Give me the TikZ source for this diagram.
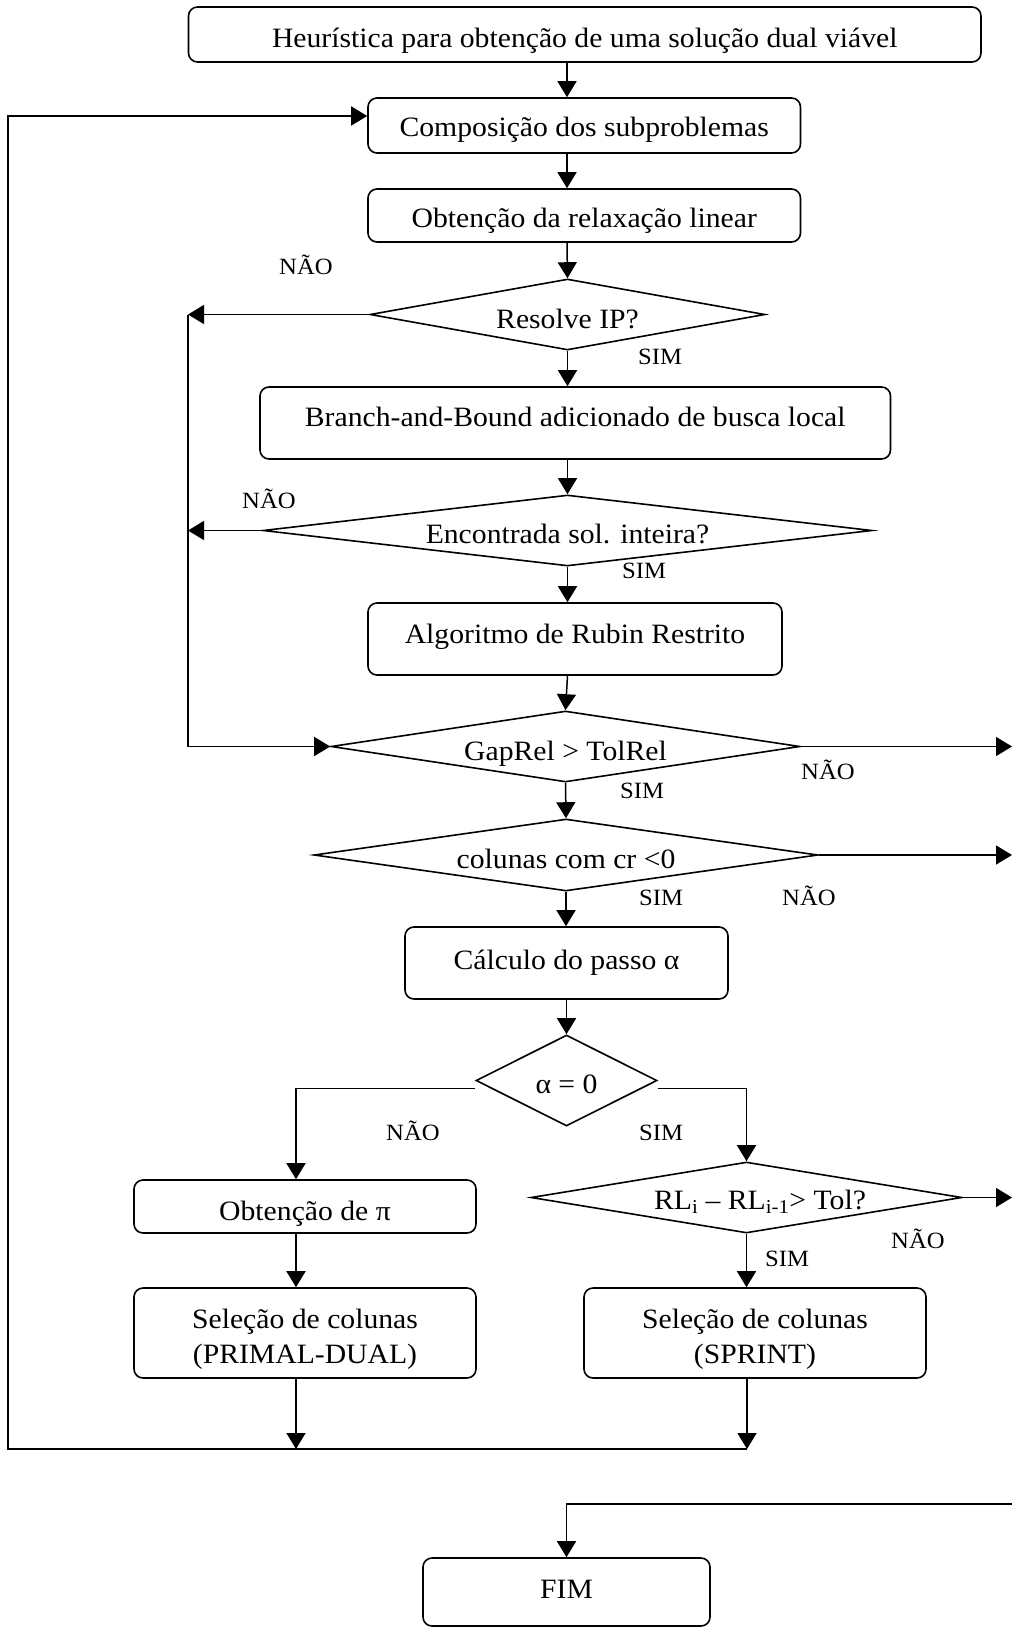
\documentclass[tikz,border=0pt]{standalone}
\usepackage{fontspec}
\setmainfont{Liberation Serif}[FakeStretch=1.06]
\usetikzlibrary{shapes.geometric,arrows.meta,calc}
\newcommand{\mainsize}{\fontsize{28}{35}\selectfont}
\newcommand{\labelsize}{\fontsize{23.3}{28}\selectfont}
% two centred lines, lowered a little inside their box
\newcommand{\twolines}[2]{\raisebox{-5.5pt}[\height][\depth]{\begin{tabular}{@{}c@{}}#1\\#2\end{tabular}}}
\begin{document}
\begin{tikzpicture}[x=1pt,y=-1pt,
  proc/.style={draw, rounded corners=9pt, line width=1.6pt, inner sep=0pt,
               align=center, font=\mainsize},
  dec/.style={draw, diamond, line width=1.6pt, inner sep=0pt, font=\mainsize},
  bl/.style={text height=#1, text depth=0pt},
  lbl/.style={font=\labelsize, inner sep=0pt, anchor=base west},
  arr/.style={line width=1.5pt, -{Triangle[length=16pt,width=19pt]}},
  ln/.style={line width=1.5pt}]
\useasboundingbox (0,0) rectangle (1012,1627);

% column positions of the connectors
\coordinate (cx) at (567,0);
\coordinate (lx) at (296,0);
\coordinate (rx) at (747,0);
\coordinate (lft) at (188,0);
\coordinate (rgt) at (1012,0);
\coordinate (loopC) at (8,1449);
\coordinate (joinL) at (296,1449);
\coordinate (joinR) at (747,1449);
\coordinate (fimin) at (1012,1504);

% process boxes
\node[proc, bl=27pt, minimum width=792.5pt, minimum height=55pt] (heur) at (584.75,34.5)
  {Heurística para obtenção de uma solução dual viável};
\node[proc, bl=23pt, minimum width=432.5pt, minimum height=55pt] (comp) at (584.25,125.5)
  {Composição dos subproblemas};
\node[proc, bl=23pt, minimum width=432.5pt, minimum height=53pt] (relax) at (584.25,215.5)
  {Obtenção da relaxação linear};
\node[proc, bl=6pt, minimum width=630.5pt, minimum height=72pt] (bb) at (575.25,423)
  {Branch-and-Bound adicionado de busca local};
\node[proc, bl=8pt, minimum width=414pt, minimum height=72pt] (rubin) at (575,639)
  {Algoritmo de Rubin Restrito};
\node[proc, bl=12pt, minimum width=323pt, minimum height=72pt] (passo) at (566.5,963)
  {Cálculo do passo α};
\node[proc, bl=27pt, minimum width=342pt, minimum height=53pt] (obt) at (305,1206.5)
  {Obtenção de π};
\node[proc, minimum width=342pt, minimum height=90pt] (sel1) at (305,1333)
  {\twolines{Seleção de colunas}{(PRIMAL-DUAL)}};
\node[proc, minimum width=342pt, minimum height=90pt] (sel2) at (755,1333)
  {\twolines{Seleção de colunas}{(SPRINT)}};
\node[proc, bl=12pt, minimum width=287pt, minimum height=68pt] (fim) at (566.5,1592)
  {FIM};

% decisions
\node[dec, bl=27pt, minimum width=395pt, minimum height=71pt, aspect=5.56] (d1) at (567.5,314.5)
  {Resolve IP?};
\node[dec, bl=25pt, minimum width=609pt, minimum height=71pt, aspect=8.58] (d2) at (567.5,530.5)
  {Encontrada sol. inteira?};
\node[dec, bl=27pt, minimum width=469pt, minimum height=71pt, aspect=6.61] (d3) at (565.5,746.5)
  {GapRel > TolRel};
\node[dec, bl=26pt, minimum width=504pt, minimum height=72pt, aspect=7.0] (d4) at (566,855)
  {colunas com cr <0};
\node[dec, bl=25pt, minimum width=181pt, minimum height=91pt, aspect=1.99] (d5) at (566.5,1080.5)
  {α = 0};
\node[dec, bl=23pt, minimum width=431pt, minimum height=71pt, aspect=6.07] (d6) at (746.5,1197.5)
  {\hspace*{27pt}RL\textsubscript{i} – RL\textsubscript{i-1}> Tol?};

% main column
\draw[arr] (cx |- heur.south) -- (cx |- comp.north);
\draw[arr] (cx |- comp.south) -- (cx |- relax.north);
\draw[arr] (cx |- relax.south) -- (d1.north);
\draw[arr] (d1.south) -- (d1.south |- bb.north);
\draw[arr] (d1.south |- bb.south) -- (d2.north);
\draw[arr] (d2.south) -- (d2.south |- rubin.north);
\draw[arr] (d2.south |- rubin.south) -- (d3.north);
\draw[arr] (d3.south) -- (d4.north);
\draw[arr] (d4.south) -- (d4.south |- passo.north);
\draw[arr] (passo.south) -- (d5.north);

% NAO branches back to the gap test
\draw[arr] (d1.west) -- (d1.west -| lft);
\draw[arr] (d2.west) -- (d2.west -| lft);
\draw[arr] (d1.west -| lft) |- (d3.west);

% exits to the right
\draw[arr] (d3.east) -- (d3.east -| rgt);
\draw[arr] (d4.east) -- (d4.east -| rgt);
\draw[arr] (d6.east) -- (d6.east -| rgt);
\draw[arr] (fimin) -| (fim.north);

% alpha = 0 split
\draw[arr] ([yshift=-8pt]d5.west) -| (lx |- obt.north);
\draw[arr] ([yshift=-8pt]d5.east) -| (d6.north);
\draw[arr] (lx |- obt.south) -- (lx |- sel1.north);
\draw[arr] (d6.south) -- (d6.south |- sel2.north);

% return to the subproblem composition
\draw[arr] (lx |- sel1.south) -- (joinL);
\draw[arr] (rx |- sel2.south) -- (joinR);
\draw[arr] (joinR) -- (loopC) |- ([yshift=9.5pt]comp.west);

% branch labels
\node[lbl] (n1) at (279,274) {NÃO};
\node[lbl] (s1) at (638,364) {SIM};
\node[lbl] (n2) at (242,508) {NÃO};
\node[lbl] (s2) at (622,578) {SIM};
\node[lbl] (n3) at (801,779) {NÃO};
\node[lbl] (s3) at (620,798) {SIM};
\node[lbl] (s4) at (639,905) {SIM};
\node[lbl] (n4) at (782,905) {NÃO};
\node[lbl] (n5) at (386,1140) {NÃO};
\node[lbl] (s5) at (639,1140) {SIM};
\node[lbl] (n6) at (891,1248) {NÃO};
\node[lbl] (s6) at (765,1266) {SIM};
\end{tikzpicture}
\end{document}
